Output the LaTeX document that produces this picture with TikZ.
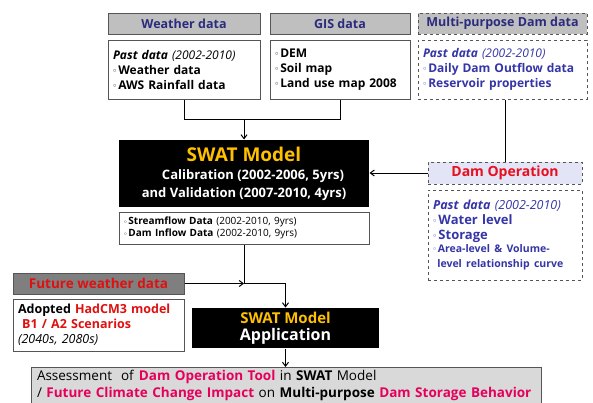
\documentclass[tikz,border=0pt]{standalone}
\usepackage{fontspec}
\setmainfont{Open Sans}
\usetikzlibrary{arrows.meta}
\definecolor{hdrgray}{HTML}{BFBFBF}
\definecolor{navy}{HTML}{2B2B7E}
\definecolor{mpblue}{HTML}{3535A8}
\definecolor{futgray}{HTML}{7F7F7F}
\definecolor{futred}{HTML}{E01010}
\definecolor{opred}{HTML}{E8101E}
\definecolor{hotpink}{HTML}{E6005C}
\definecolor{swatyellow}{HTML}{FFC000}
\definecolor{lavender}{HTML}{E4E4F7}
\definecolor{assgray}{HTML}{D9D9D9}
\definecolor{edge}{HTML}{555555}
\newcommand{\blt}{\raisebox{0.25ex}{\scalebox{0.55}{$\circ$}}\,}
\tikzset{
  hdr/.style={draw=edge,fill=hdrgray,inner sep=0pt,minimum height=21pt,
              font=\fontsize{12.5}{15}\selectfont\bfseries,text=navy},
  body/.style={draw=edge,fill=white,inner xsep=5pt,inner ysep=0pt,align=left,
               font=\fontsize{12}{15}\selectfont\bfseries},
  blackbox/.style={fill=black,inner sep=0pt,align=center,text=white},
  arr/.style={-{Straight Barb[length=4pt,width=6pt]}},
}
\begin{document}
\begin{tikzpicture}[x=1pt,y=-1pt,line width=1pt]
  \path[use as bounding box] (0,0) rectangle (593,402);   % canvas 593 x 402 px
  % ---- input data (top row) ----
  \node[hdr,minimum width=152pt] (whdr) at (184,23.5) {Weather data};
  \node[hdr,minimum width=140pt] (ghdr) at (340,23.5) {GIS data};
  \node[hdr,dashed,minimum width=169pt] (mphdr) at (502.5,23.5) {Multi-purpose Dam data};
  \node[body,minimum width=152pt,minimum height=59pt,text width=142pt] (wbody) at (184,69.5)
    {\textit{Past data} {\mdseries\itshape (2002-2010)}\\ \blt Weather data\\ \blt AWS Rainfall data};
  \node[body,minimum width=140pt,minimum height=59pt,text width=130pt] (gbody) at (340,69.5)
    {\blt DEM\\ \blt Soil map\\ \blt Land use map 2008};
  \node[body,dashed,minimum width=169pt,minimum height=59pt,text width=159pt,text=mpblue] (mpbody) at (502.5,69.5)
    {\textit{Past data} {\mdseries\itshape (2002-2010)}\\ \blt Daily Dam Outflow data\\ \blt Reservoir properties};
  % ---- calibration model ----
  \node[blackbox,minimum width=250pt,minimum height=67pt,
        font=\fontsize{13}{18}\selectfont\bfseries] (cal) at (244,173.5)
    {{\fontsize{19}{22}\selectfont\color{swatyellow}SWAT Model}\\
     \hspace*{18pt}Calibration (2002-2006, 5yrs)\\ and Validation (2007-2010, 4yrs)};
  \node[body,minimum width=250pt,minimum height=32pt,text width=240pt,
        font=\fontsize{10}{12.5}\selectfont] (stream) at (244,228)
    {\blt\textbf{Streamflow Data} (2002-2010, 9yrs)\\ \blt\textbf{Dam Inflow Data} (2002-2010, 9yrs)};
  % ---- dam operation ----
  \node[hdr,dashed,fill=lavender,minimum width=154pt,minimum height=22pt,text=opred,
        font=\fontsize{14}{18}\selectfont\bfseries] (dhdr) at (505,173) {Dam Operation};
  \node[body,dashed,minimum width=154pt,minimum height=90pt,text width=144pt,text=mpblue,
        font=\fontsize{13}{15}\selectfont\bfseries] (dbody) at (505,235)
    {{\fontsize{12.5}{15}\selectfont\textit{Past data} {\mdseries\itshape (2002-2010)}}\\
     \blt Water level\\ \blt Storage\\
     {\fontsize{10.5}{12.5}\selectfont\blt Area-level \& Volume-\\ \ level relationship curve}};
  % ---- future climate ----
  \node[hdr,fill=futgray,minimum width=171pt,text=futred,
        font=\fontsize{13.5}{15}\selectfont\bfseries] (fhdr) at (98.5,283.5) {Future weather data};
  \node[body,minimum width=171pt,minimum height=52pt,text width=161pt,
        font=\fontsize{12.5}{15}\selectfont\bfseries] (adopt) at (98.5,325)
    {Adopted {\color{futred}HadCM3 model}\\ {\color{futred}\ B1 / A2 Scenarios}\\ {\mdseries\itshape (2040s, 2080s)}};
  \node[blackbox,minimum width=187pt,minimum height=40pt,
        font=\fontsize{16}{17}\selectfont\bfseries] (app) at (285.5,328)
    {{\fontsize{15}{17}\selectfont\color{swatyellow}SWAT Model}\\ Application};
  % ---- assessment ----
  \node[draw=edge,fill=assgray,anchor=north,minimum width=510pt,text width=498pt,
        inner xsep=6pt,inner ysep=3pt,align=left,font=\fontsize{13.5}{17}\selectfont] (assess) at (286,367)
    {Assessment \ of \textbf{\color{hotpink}Dam Operation Tool} in \textbf{SWAT} Model\\
     / \textbf{\color{hotpink}Future Climate Change Impact} on \textbf{Multi-purpose}
     \textbf{\color{hotpink}Dam Storage Behavior}};
  % ---- connectors ----
  \coordinate (jtop) at (244,119);
  \coordinate (jmid) at (244,283.5);
  \draw (wbody.south) |- (gbody.south |- jtop) -- (gbody.south);
  \draw[arr] (jtop) -- (cal.north);
  \draw (dhdr.north |- mpbody.south) -- (dhdr.north);
  \draw[arr] (dhdr.west) -- (dhdr.west -| cal.east);
  \draw[arr] (stream.south) -- (jmid) -| (app.north);
  \draw[arr] (fhdr.east) -- (jmid);
  \draw[arr] (app.south) -- (app.south |- assess.north);
\end{tikzpicture}
\end{document}
